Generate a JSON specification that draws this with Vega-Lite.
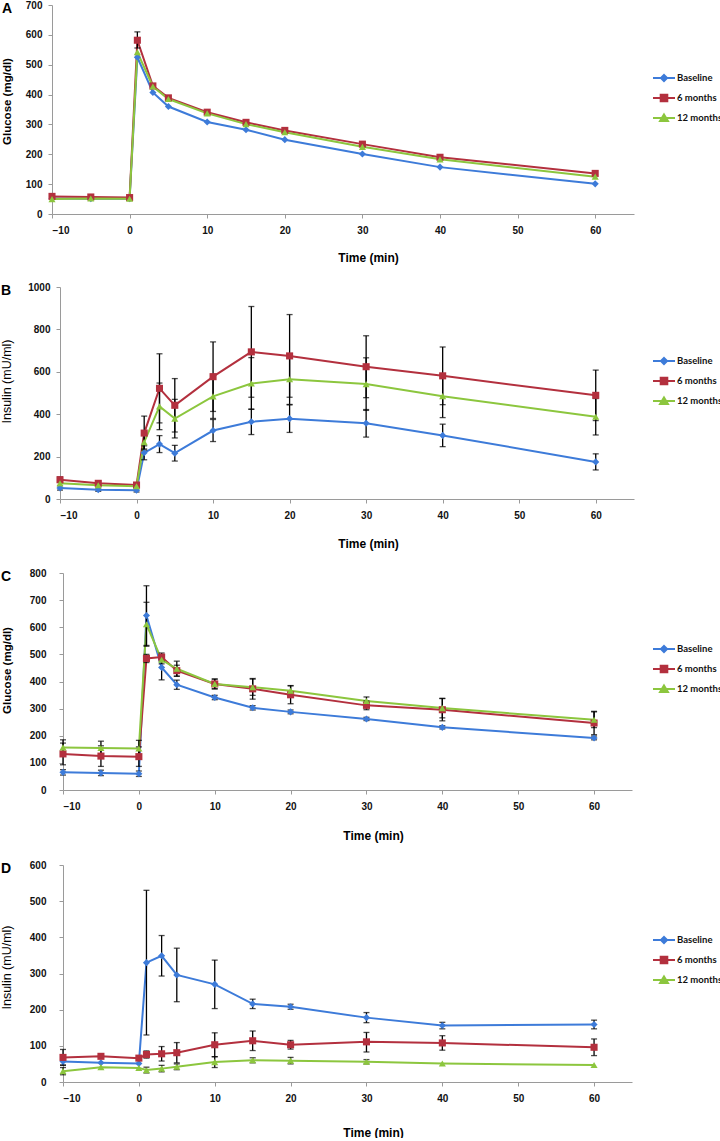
{
  "$schema": "https://vega.github.io/schema/vega-lite/v6.json",
  "background": "white",
  "padding": {"left": 0, "top": 0, "right": 0, "bottom": 0},
  "datasets": {
    "A": [
      {"t": -10, "series": "Baseline", "value": 52}, {"t": -5, "series": "Baseline", "value": 51}, {"t": 0, "series": "Baseline", "value": 51}, {"t": 1, "series": "Baseline", "value": 525}, {"t": 3, "series": "Baseline", "value": 407}, {"t": 5, "series": "Baseline", "value": 360}, {"t": 10, "series": "Baseline", "value": 308}, {"t": 15, "series": "Baseline", "value": 282}, {"t": 20, "series": "Baseline", "value": 249}, {"t": 30, "series": "Baseline", "value": 201}, {"t": 40, "series": "Baseline", "value": 157}, {"t": 60, "series": "Baseline", "value": 101},
      {"t": -10, "series": "6 months", "value": 59}, {"t": -5, "series": "6 months", "value": 57}, {"t": 0, "series": "6 months", "value": 55}, {"t": 1, "series": "6 months", "value": 582}, {"t": 3, "series": "6 months", "value": 429}, {"t": 5, "series": "6 months", "value": 389}, {"t": 10, "series": "6 months", "value": 341}, {"t": 15, "series": "6 months", "value": 307}, {"t": 20, "series": "6 months", "value": 280}, {"t": 30, "series": "6 months", "value": 234}, {"t": 40, "series": "6 months", "value": 190}, {"t": 60, "series": "6 months", "value": 136},
      {"t": -10, "series": "12 months", "value": 50}, {"t": -5, "series": "12 months", "value": 52}, {"t": 0, "series": "12 months", "value": 51}, {"t": 1, "series": "12 months", "value": 542}, {"t": 3, "series": "12 months", "value": 427}, {"t": 5, "series": "12 months", "value": 385}, {"t": 10, "series": "12 months", "value": 337}, {"t": 15, "series": "12 months", "value": 301}, {"t": 20, "series": "12 months", "value": 274}, {"t": 30, "series": "12 months", "value": 225}, {"t": 40, "series": "12 months", "value": 183}, {"t": 60, "series": "12 months", "value": 125}
    ],
    "Aerr": [
      {"t": 1, "series": "6 months", "lo": 556, "hi": 610}
    ],
    "B": [
      {"t": -10, "series": "Baseline", "value": 52}, {"t": -5, "series": "Baseline", "value": 44}, {"t": 0, "series": "Baseline", "value": 41}, {"t": 1, "series": "Baseline", "value": 218}, {"t": 3, "series": "Baseline", "value": 259}, {"t": 5, "series": "Baseline", "value": 216}, {"t": 10, "series": "Baseline", "value": 323}, {"t": 15, "series": "Baseline", "value": 364}, {"t": 20, "series": "Baseline", "value": 379}, {"t": 30, "series": "Baseline", "value": 357}, {"t": 40, "series": "Baseline", "value": 300}, {"t": 60, "series": "Baseline", "value": 175},
      {"t": -10, "series": "6 months", "value": 91}, {"t": -5, "series": "6 months", "value": 74}, {"t": 0, "series": "6 months", "value": 66}, {"t": 1, "series": "6 months", "value": 311}, {"t": 3, "series": "6 months", "value": 522}, {"t": 5, "series": "6 months", "value": 442}, {"t": 10, "series": "6 months", "value": 577}, {"t": 15, "series": "6 months", "value": 694}, {"t": 20, "series": "6 months", "value": 675}, {"t": 30, "series": "6 months", "value": 624}, {"t": 40, "series": "6 months", "value": 581}, {"t": 60, "series": "6 months", "value": 489},
      {"t": -10, "series": "12 months", "value": 74}, {"t": -5, "series": "12 months", "value": 65}, {"t": 0, "series": "12 months", "value": 60}, {"t": 1, "series": "12 months", "value": 268}, {"t": 3, "series": "12 months", "value": 437}, {"t": 5, "series": "12 months", "value": 379}, {"t": 10, "series": "12 months", "value": 484}, {"t": 15, "series": "12 months", "value": 545}, {"t": 20, "series": "12 months", "value": 565}, {"t": 30, "series": "12 months", "value": 542}, {"t": 40, "series": "12 months", "value": 485}, {"t": 60, "series": "12 months", "value": 388}
    ],
    "Berr": [
      {"t": -10, "series": "Baseline", "lo": 42, "hi": 62}, {"t": -5, "series": "Baseline", "lo": 36, "hi": 52}, {"t": 0, "series": "Baseline", "lo": 33, "hi": 49}, {"t": 1, "series": "Baseline", "lo": 185, "hi": 251}, {"t": 3, "series": "Baseline", "lo": 219, "hi": 299}, {"t": 5, "series": "Baseline", "lo": 179, "hi": 253}, {"t": 10, "series": "Baseline", "lo": 271, "hi": 375}, {"t": 15, "series": "Baseline", "lo": 304, "hi": 424}, {"t": 20, "series": "Baseline", "lo": 314, "hi": 444}, {"t": 30, "series": "Baseline", "lo": 292, "hi": 422}, {"t": 40, "series": "Baseline", "lo": 247, "hi": 353}, {"t": 60, "series": "Baseline", "lo": 137, "hi": 213},
      {"t": -10, "series": "6 months", "lo": 78, "hi": 104}, {"t": -5, "series": "6 months", "lo": 64, "hi": 84}, {"t": 0, "series": "6 months", "lo": 56, "hi": 76}, {"t": 1, "series": "6 months", "lo": 231, "hi": 391}, {"t": 3, "series": "6 months", "lo": 359, "hi": 685}, {"t": 5, "series": "6 months", "lo": 316, "hi": 568}, {"t": 10, "series": "6 months", "lo": 413, "hi": 741}, {"t": 15, "series": "6 months", "lo": 480, "hi": 908}, {"t": 20, "series": "6 months", "lo": 480, "hi": 870}, {"t": 30, "series": "6 months", "lo": 478, "hi": 770}, {"t": 40, "series": "6 months", "lo": 445, "hi": 717}, {"t": 60, "series": "6 months", "lo": 370, "hi": 608},
      {"t": 1, "series": "12 months", "lo": 236, "hi": 300}, {"t": 3, "series": "12 months", "lo": 327, "hi": 547}, {"t": 5, "series": "12 months", "lo": 288, "hi": 470}, {"t": 10, "series": "12 months", "lo": 380, "hi": 588}, {"t": 15, "series": "12 months", "lo": 423, "hi": 667}, {"t": 20, "series": "12 months", "lo": 446, "hi": 684}, {"t": 30, "series": "12 months", "lo": 418, "hi": 666}, {"t": 40, "series": "12 months", "lo": 384, "hi": 586}, {"t": 60, "series": "12 months", "lo": 302, "hi": 474}
    ],
    "C": [
      {"t": -10, "series": "Baseline", "value": 65}, {"t": -5, "series": "Baseline", "value": 63}, {"t": 0, "series": "Baseline", "value": 60}, {"t": 1, "series": "Baseline", "value": 643}, {"t": 3, "series": "Baseline", "value": 452}, {"t": 5, "series": "Baseline", "value": 388}, {"t": 10, "series": "Baseline", "value": 341}, {"t": 15, "series": "Baseline", "value": 303}, {"t": 20, "series": "Baseline", "value": 288}, {"t": 30, "series": "Baseline", "value": 262}, {"t": 40, "series": "Baseline", "value": 231}, {"t": 60, "series": "Baseline", "value": 192},
      {"t": -10, "series": "6 months", "value": 133}, {"t": -5, "series": "6 months", "value": 125}, {"t": 0, "series": "6 months", "value": 123}, {"t": 1, "series": "6 months", "value": 485}, {"t": 3, "series": "6 months", "value": 490}, {"t": 5, "series": "6 months", "value": 440}, {"t": 10, "series": "6 months", "value": 391}, {"t": 15, "series": "6 months", "value": 373}, {"t": 20, "series": "6 months", "value": 351}, {"t": 30, "series": "6 months", "value": 312}, {"t": 40, "series": "6 months", "value": 296}, {"t": 60, "series": "6 months", "value": 247},
      {"t": -10, "series": "12 months", "value": 157}, {"t": -5, "series": "12 months", "value": 155}, {"t": 0, "series": "12 months", "value": 153}, {"t": 1, "series": "12 months", "value": 611}, {"t": 3, "series": "12 months", "value": 480}, {"t": 5, "series": "12 months", "value": 447}, {"t": 10, "series": "12 months", "value": 391}, {"t": 15, "series": "12 months", "value": 379}, {"t": 20, "series": "12 months", "value": 366}, {"t": 30, "series": "12 months", "value": 328}, {"t": 40, "series": "12 months", "value": 302}, {"t": 60, "series": "12 months", "value": 259}
    ],
    "Cerr": [
      {"t": -10, "series": "Baseline", "lo": 55, "hi": 75}, {"t": -5, "series": "Baseline", "lo": 53, "hi": 73}, {"t": 0, "series": "Baseline", "lo": 50, "hi": 70}, {"t": 1, "series": "Baseline", "lo": 533, "hi": 753}, {"t": 3, "series": "Baseline", "lo": 406, "hi": 498}, {"t": 5, "series": "Baseline", "lo": 371, "hi": 405}, {"t": 10, "series": "Baseline", "lo": 333, "hi": 349}, {"t": 15, "series": "Baseline", "lo": 295, "hi": 311}, {"t": 20, "series": "Baseline", "lo": 281, "hi": 295}, {"t": 30, "series": "Baseline", "lo": 256, "hi": 268}, {"t": 40, "series": "Baseline", "lo": 225, "hi": 237}, {"t": 60, "series": "Baseline", "lo": 185, "hi": 199},
      {"t": -10, "series": "6 months", "lo": 93, "hi": 173}, {"t": -5, "series": "6 months", "lo": 87, "hi": 163}, {"t": 0, "series": "6 months", "lo": 87, "hi": 159}, {"t": 1, "series": "6 months", "lo": 470, "hi": 500}, {"t": 3, "series": "6 months", "lo": 475, "hi": 505}, {"t": 5, "series": "6 months", "lo": 420, "hi": 460}, {"t": 10, "series": "6 months", "lo": 373, "hi": 409}, {"t": 15, "series": "6 months", "lo": 335, "hi": 411}, {"t": 20, "series": "6 months", "lo": 318, "hi": 384}, {"t": 30, "series": "6 months", "lo": 296, "hi": 328}, {"t": 40, "series": "6 months", "lo": 255, "hi": 337}, {"t": 60, "series": "6 months", "lo": 204, "hi": 290},
      {"t": -10, "series": "12 months", "lo": 129, "hi": 185}, {"t": -5, "series": "12 months", "lo": 130, "hi": 180}, {"t": 0, "series": "12 months", "lo": 123, "hi": 183}, {"t": 1, "series": "12 months", "lo": 530, "hi": 692}, {"t": 3, "series": "12 months", "lo": 465, "hi": 495}, {"t": 5, "series": "12 months", "lo": 419, "hi": 475}, {"t": 10, "series": "12 months", "lo": 373, "hi": 409}, {"t": 15, "series": "12 months", "lo": 349, "hi": 409}, {"t": 20, "series": "12 months", "lo": 347, "hi": 385}, {"t": 30, "series": "12 months", "lo": 313, "hi": 343}, {"t": 40, "series": "12 months", "lo": 266, "hi": 338}, {"t": 60, "series": "12 months", "lo": 230, "hi": 288}
    ],
    "D": [
      {"t": -10, "series": "Baseline", "value": 57}, {"t": -5, "series": "Baseline", "value": 53}, {"t": 0, "series": "Baseline", "value": 51}, {"t": 1, "series": "Baseline", "value": 330}, {"t": 3, "series": "Baseline", "value": 349}, {"t": 5, "series": "Baseline", "value": 296}, {"t": 10, "series": "Baseline", "value": 270}, {"t": 15, "series": "Baseline", "value": 216}, {"t": 20, "series": "Baseline", "value": 208}, {"t": 30, "series": "Baseline", "value": 178}, {"t": 40, "series": "Baseline", "value": 156}, {"t": 60, "series": "Baseline", "value": 159},
      {"t": -10, "series": "6 months", "value": 68}, {"t": -5, "series": "6 months", "value": 71}, {"t": 0, "series": "6 months", "value": 66}, {"t": 1, "series": "6 months", "value": 76}, {"t": 3, "series": "6 months", "value": 78}, {"t": 5, "series": "6 months", "value": 81}, {"t": 10, "series": "6 months", "value": 103}, {"t": 15, "series": "6 months", "value": 114}, {"t": 20, "series": "6 months", "value": 103}, {"t": 30, "series": "6 months", "value": 111}, {"t": 40, "series": "6 months", "value": 108}, {"t": 60, "series": "6 months", "value": 96},
      {"t": -10, "series": "12 months", "value": 30}, {"t": -5, "series": "12 months", "value": 41}, {"t": 0, "series": "12 months", "value": 39}, {"t": 1, "series": "12 months", "value": 33}, {"t": 3, "series": "12 months", "value": 37}, {"t": 5, "series": "12 months", "value": 42}, {"t": 10, "series": "12 months", "value": 55}, {"t": 15, "series": "12 months", "value": 60}, {"t": 20, "series": "12 months", "value": 59}, {"t": 30, "series": "12 months", "value": 56}, {"t": 40, "series": "12 months", "value": 51}, {"t": 60, "series": "12 months", "value": 47}
    ],
    "Derr": [
      {"t": -10, "series": "Baseline", "lo": 47, "hi": 67}, {"t": 1, "series": "Baseline", "lo": 130, "hi": 530}, {"t": 3, "series": "Baseline", "lo": 293, "hi": 405}, {"t": 5, "series": "Baseline", "lo": 222, "hi": 370}, {"t": 10, "series": "Baseline", "lo": 203, "hi": 337}, {"t": 15, "series": "Baseline", "lo": 203, "hi": 229}, {"t": 20, "series": "Baseline", "lo": 201, "hi": 215}, {"t": 30, "series": "Baseline", "lo": 164, "hi": 192}, {"t": 40, "series": "Baseline", "lo": 147, "hi": 165}, {"t": 60, "series": "Baseline", "lo": 147, "hi": 171},
      {"t": -10, "series": "6 months", "lo": 46, "hi": 90}, {"t": 1, "series": "6 months", "lo": 66, "hi": 86}, {"t": 3, "series": "6 months", "lo": 58, "hi": 98}, {"t": 5, "series": "6 months", "lo": 53, "hi": 109}, {"t": 10, "series": "6 months", "lo": 70, "hi": 136}, {"t": 15, "series": "6 months", "lo": 87, "hi": 141}, {"t": 20, "series": "6 months", "lo": 91, "hi": 115}, {"t": 30, "series": "6 months", "lo": 83, "hi": 137}, {"t": 40, "series": "6 months", "lo": 88, "hi": 128}, {"t": 60, "series": "6 months", "lo": 73, "hi": 119},
      {"t": -10, "series": "12 months", "lo": 20, "hi": 40}, {"t": 1, "series": "12 months", "lo": 25, "hi": 41}, {"t": 3, "series": "12 months", "lo": 28, "hi": 46}, {"t": 5, "series": "12 months", "lo": 34, "hi": 50}, {"t": 10, "series": "12 months", "lo": 40, "hi": 70}, {"t": 15, "series": "12 months", "lo": 53, "hi": 67}, {"t": 20, "series": "12 months", "lo": 50, "hi": 68}, {"t": 30, "series": "12 months", "lo": 50, "hi": 62}
    ]
  },
  "concat": [
    {
      "width": 571, "height": 209,
      "title": {"text": "A", "anchor": "start", "frame": "group", "dx": -61, "dy": 16, "offset": 0},
      "layer": [
        {"data": {"name": "A"}, "mark": {"type": "line", "strokeWidth": 2},
          "encoding": {
            "x": {"field": "t", "type": "quantitative", "title": "Time (min)", "scale": {"domain": [-10, 65], "nice": false, "range": [-11, 571]}, "axis": {"values": [-10, 0, 10, 20, 30, 40, 50, 60], "format": "d", "titleX": 305, "titleY": 38}},
            "y": {"field": "value", "type": "quantitative", "title": "Glucose (mg/dl)", "scale": {"domain": [0, 700], "nice": false}, "axis": {"values": [0, 100, 200, 300, 400, 500, 600, 700], "format": "d", "offset": 11, "labelPadding": 6, "titleX": -40, "titleY": 96, "titleFontWeight": "bold", "titleFontSize": 11.5}},
            "color": {"field": "series", "type": "nominal", "scale": {"domain": ["Baseline", "6 months", "12 months"], "range": ["#3D7BD9", "#B3303E", "#8CC63E"]},
              "legend": {"orient": "none", "legendX": 589, "legendY": 61, "title": null,
                "encoding": {"symbols": {
                  "shape": {"value": {"expr": "datum.value === 'Baseline' ? 'M-1,0H1M0,-0.28L0.28,0L0,0.28L-0.28,0Z' : datum.value === '6 months' ? 'M-1,0H1M-0.3,-0.3H0.3V0.3H-0.3Z' : 'M-1,0H1M0,-0.32L0.36,0.28H-0.36Z'"}},
                  "stroke": {"value": {"expr": "datum.value === 'Baseline' ? '#3D7BD9' : datum.value === '6 months' ? '#B3303E' : '#8CC63E'"}},
                  "fill": {"value": {"expr": "datum.value === 'Baseline' ? '#3D7BD9' : datum.value === '6 months' ? '#B3303E' : '#8CC63E'"}},
                  "strokeWidth": {"value": 2}, "size": {"value": 484}, "opacity": {"value": 1}
                }}}}
          }},
        {"data": {"name": "Aerr"}, "mark": {"type": "errorbar", "ticks": true, "size": 6, "thickness": 1.3, "color": "#000000"},
          "encoding": {
            "x": {"field": "t", "type": "quantitative", "title": "Time (min)", "axis": {"values": [-10, 0, 10, 20, 30, 40, 50, 60], "format": "d", "titleX": 305, "titleY": 38}},
            "y": {"field": "lo", "type": "quantitative", "title": "Glucose (mg/dl)", "axis": {"values": [0, 100, 200, 300, 400, 500, 600, 700], "format": "d", "offset": 11, "labelPadding": 6, "titleX": -40, "titleY": 96, "titleFontWeight": "bold", "titleFontSize": 11.5}},
            "y2": {"field": "hi"}
          }},
        {"data": {"name": "A"}, "mark": {"type": "point", "filled": true, "opacity": 1, "size": 50},
          "encoding": {
            "x": {"field": "t", "type": "quantitative", "title": "Time (min)", "axis": {"values": [-10, 0, 10, 20, 30, 40, 50, 60], "format": "d", "titleX": 305, "titleY": 38}},
            "y": {"field": "value", "type": "quantitative", "title": "Glucose (mg/dl)", "axis": {"values": [0, 100, 200, 300, 400, 500, 600, 700], "format": "d", "offset": 11, "labelPadding": 6, "titleX": -40, "titleY": 96, "titleFontWeight": "bold", "titleFontSize": 11.5}},
            "color": {"field": "series", "type": "nominal",
              "legend": {"orient": "none", "legendX": 589, "legendY": 61, "title": null,
                "encoding": {"symbols": {
                  "shape": {"value": {"expr": "datum.value === 'Baseline' ? 'M-1,0H1M0,-0.28L0.28,0L0,0.28L-0.28,0Z' : datum.value === '6 months' ? 'M-1,0H1M-0.3,-0.3H0.3V0.3H-0.3Z' : 'M-1,0H1M0,-0.32L0.36,0.28H-0.36Z'"}},
                  "stroke": {"value": {"expr": "datum.value === 'Baseline' ? '#3D7BD9' : datum.value === '6 months' ? '#B3303E' : '#8CC63E'"}},
                  "fill": {"value": {"expr": "datum.value === 'Baseline' ? '#3D7BD9' : datum.value === '6 months' ? '#B3303E' : '#8CC63E'"}},
                  "strokeWidth": {"value": 2}, "size": {"value": 484}, "opacity": {"value": 1}
                }}}},
            "shape": {"field": "series", "type": "nominal", "scale": {"domain": ["12 months", "6 months", "Baseline"], "range": ["triangle-up", "square", "diamond"]}, "legend": null}
          }}
      ]
    },
    {
      "width": 571, "height": 212,
      "title": {"text": "B", "anchor": "start", "frame": "group", "dx": -62, "dy": 16, "offset": 0},
      "layer": [
        {"data": {"name": "B"}, "mark": {"type": "line", "strokeWidth": 2},
          "encoding": {
            "x": {"field": "t", "type": "quantitative", "title": "Time (min)", "scale": {"domain": [-10, 65], "nice": false, "range": [-3, 571]}, "axis": {"values": [-10, 0, 10, 20, 30, 40, 50, 60], "format": "d", "titleX": 305, "titleY": 39}},
            "y": {"field": "value", "type": "quantitative", "title": "Insulin (mU/ml)", "scale": {"domain": [0, 1000], "nice": false}, "axis": {"values": [0, 200, 400, 600, 800, 1000], "format": "d", "offset": 3, "labelPadding": 6, "titleX": -47, "titleY": 94, "titleFontWeight": "normal", "titleFontSize": 12.5}},
            "color": {"field": "series", "type": "nominal", "scale": {"domain": ["Baseline", "6 months", "12 months"], "range": ["#3D7BD9", "#B3303E", "#8CC63E"]},
              "legend": {"orient": "none", "legendX": 589, "legendY": 62, "title": null,
                "encoding": {"symbols": {
                  "shape": {"value": {"expr": "datum.value === 'Baseline' ? 'M-1,0H1M0,-0.28L0.28,0L0,0.28L-0.28,0Z' : datum.value === '6 months' ? 'M-1,0H1M-0.3,-0.3H0.3V0.3H-0.3Z' : 'M-1,0H1M0,-0.32L0.36,0.28H-0.36Z'"}},
                  "stroke": {"value": {"expr": "datum.value === 'Baseline' ? '#3D7BD9' : datum.value === '6 months' ? '#B3303E' : '#8CC63E'"}},
                  "fill": {"value": {"expr": "datum.value === 'Baseline' ? '#3D7BD9' : datum.value === '6 months' ? '#B3303E' : '#8CC63E'"}},
                  "strokeWidth": {"value": 2}, "size": {"value": 484}, "opacity": {"value": 1}
                }}}}
          }},
        {"data": {"name": "Berr"}, "mark": {"type": "errorbar", "ticks": true, "size": 6, "thickness": 1.3, "color": "#000000"},
          "encoding": {
            "x": {"field": "t", "type": "quantitative", "title": "Time (min)", "axis": {"values": [-10, 0, 10, 20, 30, 40, 50, 60], "format": "d", "titleX": 305, "titleY": 39}},
            "y": {"field": "lo", "type": "quantitative", "title": "Insulin (mU/ml)", "axis": {"values": [0, 200, 400, 600, 800, 1000], "format": "d", "offset": 3, "labelPadding": 6, "titleX": -47, "titleY": 94, "titleFontWeight": "normal", "titleFontSize": 12.5}},
            "y2": {"field": "hi"}
          }},
        {"data": {"name": "B"}, "mark": {"type": "point", "filled": true, "opacity": 1, "size": 50},
          "encoding": {
            "x": {"field": "t", "type": "quantitative", "title": "Time (min)", "axis": {"values": [-10, 0, 10, 20, 30, 40, 50, 60], "format": "d", "titleX": 305, "titleY": 39}},
            "y": {"field": "value", "type": "quantitative", "title": "Insulin (mU/ml)", "axis": {"values": [0, 200, 400, 600, 800, 1000], "format": "d", "offset": 3, "labelPadding": 6, "titleX": -47, "titleY": 94, "titleFontWeight": "normal", "titleFontSize": 12.5}},
            "color": {"field": "series", "type": "nominal",
              "legend": {"orient": "none", "legendX": 589, "legendY": 62, "title": null,
                "encoding": {"symbols": {
                  "shape": {"value": {"expr": "datum.value === 'Baseline' ? 'M-1,0H1M0,-0.28L0.28,0L0,0.28L-0.28,0Z' : datum.value === '6 months' ? 'M-1,0H1M-0.3,-0.3H0.3V0.3H-0.3Z' : 'M-1,0H1M0,-0.32L0.36,0.28H-0.36Z'"}},
                  "stroke": {"value": {"expr": "datum.value === 'Baseline' ? '#3D7BD9' : datum.value === '6 months' ? '#B3303E' : '#8CC63E'"}},
                  "fill": {"value": {"expr": "datum.value === 'Baseline' ? '#3D7BD9' : datum.value === '6 months' ? '#B3303E' : '#8CC63E'"}},
                  "strokeWidth": {"value": 2}, "size": {"value": 484}, "opacity": {"value": 1}
                }}}},
            "shape": {"field": "series", "type": "nominal", "scale": {"domain": ["12 months", "6 months", "Baseline"], "range": ["triangle-up", "square", "diamond"]}, "legend": null}
          }}
      ]
    },
    {
      "width": 569, "height": 217,
      "title": {"text": "C", "anchor": "start", "frame": "group", "dx": -62, "dy": 16, "offset": 0},
      "layer": [
        {"data": {"name": "C"}, "mark": {"type": "line", "strokeWidth": 2},
          "encoding": {
            "x": {"field": "t", "type": "quantitative", "title": "Time (min)", "scale": {"domain": [-10, 65], "nice": false}, "axis": {"values": [-10, 0, 10, 20, 30, 40, 50, 60], "format": "d", "titleX": 310, "titleY": 40}},
            "y": {"field": "value", "type": "quantitative", "title": "Glucose (mg/dl)", "scale": {"domain": [0, 800], "nice": false}, "axis": {"values": [0, 100, 200, 300, 400, 500, 600, 700, 800], "format": "d", "labelPadding": 13, "titleX": -51, "titleY": 97, "titleFontWeight": "bold", "titleFontSize": 11.5}},
            "color": {"field": "series", "type": "nominal", "scale": {"domain": ["Baseline", "6 months", "12 months"], "range": ["#3D7BD9", "#B3303E", "#8CC63E"]},
              "legend": {"orient": "none", "legendX": 589, "legendY": 64, "title": null,
                "encoding": {"symbols": {
                  "shape": {"value": {"expr": "datum.value === 'Baseline' ? 'M-1,0H1M0,-0.28L0.28,0L0,0.28L-0.28,0Z' : datum.value === '6 months' ? 'M-1,0H1M-0.3,-0.3H0.3V0.3H-0.3Z' : 'M-1,0H1M0,-0.32L0.36,0.28H-0.36Z'"}},
                  "stroke": {"value": {"expr": "datum.value === 'Baseline' ? '#3D7BD9' : datum.value === '6 months' ? '#B3303E' : '#8CC63E'"}},
                  "fill": {"value": {"expr": "datum.value === 'Baseline' ? '#3D7BD9' : datum.value === '6 months' ? '#B3303E' : '#8CC63E'"}},
                  "strokeWidth": {"value": 2}, "size": {"value": 484}, "opacity": {"value": 1}
                }}}}
          }},
        {"data": {"name": "Cerr"}, "mark": {"type": "errorbar", "ticks": true, "size": 6, "thickness": 1.3, "color": "#000000"},
          "encoding": {
            "x": {"field": "t", "type": "quantitative", "title": "Time (min)", "axis": {"values": [-10, 0, 10, 20, 30, 40, 50, 60], "format": "d", "titleX": 310, "titleY": 40}},
            "y": {"field": "lo", "type": "quantitative", "title": "Glucose (mg/dl)", "axis": {"values": [0, 100, 200, 300, 400, 500, 600, 700, 800], "format": "d", "labelPadding": 13, "titleX": -51, "titleY": 97, "titleFontWeight": "bold", "titleFontSize": 11.5}},
            "y2": {"field": "hi"}
          }},
        {"data": {"name": "C"}, "mark": {"type": "point", "filled": true, "opacity": 1, "size": 50},
          "encoding": {
            "x": {"field": "t", "type": "quantitative", "title": "Time (min)", "axis": {"values": [-10, 0, 10, 20, 30, 40, 50, 60], "format": "d", "titleX": 310, "titleY": 40}},
            "y": {"field": "value", "type": "quantitative", "title": "Glucose (mg/dl)", "axis": {"values": [0, 100, 200, 300, 400, 500, 600, 700, 800], "format": "d", "labelPadding": 13, "titleX": -51, "titleY": 97, "titleFontWeight": "bold", "titleFontSize": 11.5}},
            "color": {"field": "series", "type": "nominal",
              "legend": {"orient": "none", "legendX": 589, "legendY": 64, "title": null,
                "encoding": {"symbols": {
                  "shape": {"value": {"expr": "datum.value === 'Baseline' ? 'M-1,0H1M0,-0.28L0.28,0L0,0.28L-0.28,0Z' : datum.value === '6 months' ? 'M-1,0H1M-0.3,-0.3H0.3V0.3H-0.3Z' : 'M-1,0H1M0,-0.32L0.36,0.28H-0.36Z'"}},
                  "stroke": {"value": {"expr": "datum.value === 'Baseline' ? '#3D7BD9' : datum.value === '6 months' ? '#B3303E' : '#8CC63E'"}},
                  "fill": {"value": {"expr": "datum.value === 'Baseline' ? '#3D7BD9' : datum.value === '6 months' ? '#B3303E' : '#8CC63E'"}},
                  "strokeWidth": {"value": 2}, "size": {"value": 484}, "opacity": {"value": 1}
                }}}},
            "shape": {"field": "series", "type": "nominal", "scale": {"domain": ["12 months", "6 months", "Baseline"], "range": ["triangle-up", "square", "diamond"]}, "legend": null}
          }}
      ]
    },
    {
      "width": 569, "height": 217,
      "title": {"text": "D", "anchor": "start", "frame": "group", "dx": -62, "dy": 16, "offset": 0},
      "layer": [
        {"data": {"name": "D"}, "mark": {"type": "line", "strokeWidth": 2},
          "encoding": {
            "x": {"field": "t", "type": "quantitative", "title": "Time (min)", "scale": {"domain": [-10, 65], "nice": false}, "axis": {"values": [-10, 0, 10, 20, 30, 40, 50, 60], "format": "d", "titleX": 310, "titleY": 45}},
            "y": {"field": "value", "type": "quantitative", "title": "Insulin (mU/ml)", "scale": {"domain": [0, 600], "nice": false}, "axis": {"values": [0, 100, 200, 300, 400, 500, 600], "format": "d", "labelPadding": 13, "titleX": -50, "titleY": 102, "titleFontWeight": "normal", "titleFontSize": 12.5}},
            "color": {"field": "series", "type": "nominal", "scale": {"domain": ["Baseline", "6 months", "12 months"], "range": ["#3D7BD9", "#B3303E", "#8CC63E"]},
              "legend": {"orient": "none", "legendX": 589, "legendY": 63, "title": null,
                "encoding": {"symbols": {
                  "shape": {"value": {"expr": "datum.value === 'Baseline' ? 'M-1,0H1M0,-0.28L0.28,0L0,0.28L-0.28,0Z' : datum.value === '6 months' ? 'M-1,0H1M-0.3,-0.3H0.3V0.3H-0.3Z' : 'M-1,0H1M0,-0.32L0.36,0.28H-0.36Z'"}},
                  "stroke": {"value": {"expr": "datum.value === 'Baseline' ? '#3D7BD9' : datum.value === '6 months' ? '#B3303E' : '#8CC63E'"}},
                  "fill": {"value": {"expr": "datum.value === 'Baseline' ? '#3D7BD9' : datum.value === '6 months' ? '#B3303E' : '#8CC63E'"}},
                  "strokeWidth": {"value": 2}, "size": {"value": 484}, "opacity": {"value": 1}
                }}}}
          }},
        {"data": {"name": "Derr"}, "mark": {"type": "errorbar", "ticks": true, "size": 6, "thickness": 1.3, "color": "#000000"},
          "encoding": {
            "x": {"field": "t", "type": "quantitative", "title": "Time (min)", "axis": {"values": [-10, 0, 10, 20, 30, 40, 50, 60], "format": "d", "titleX": 310, "titleY": 45}},
            "y": {"field": "lo", "type": "quantitative", "title": "Insulin (mU/ml)", "axis": {"values": [0, 100, 200, 300, 400, 500, 600], "format": "d", "labelPadding": 13, "titleX": -50, "titleY": 102, "titleFontWeight": "normal", "titleFontSize": 12.5}},
            "y2": {"field": "hi"}
          }},
        {"data": {"name": "D"}, "mark": {"type": "point", "filled": true, "opacity": 1, "size": 50},
          "encoding": {
            "x": {"field": "t", "type": "quantitative", "title": "Time (min)", "axis": {"values": [-10, 0, 10, 20, 30, 40, 50, 60], "format": "d", "titleX": 310, "titleY": 45}},
            "y": {"field": "value", "type": "quantitative", "title": "Insulin (mU/ml)", "axis": {"values": [0, 100, 200, 300, 400, 500, 600], "format": "d", "labelPadding": 13, "titleX": -50, "titleY": 102, "titleFontWeight": "normal", "titleFontSize": 12.5}},
            "color": {"field": "series", "type": "nominal",
              "legend": {"orient": "none", "legendX": 589, "legendY": 63, "title": null,
                "encoding": {"symbols": {
                  "shape": {"value": {"expr": "datum.value === 'Baseline' ? 'M-1,0H1M0,-0.28L0.28,0L0,0.28L-0.28,0Z' : datum.value === '6 months' ? 'M-1,0H1M-0.3,-0.3H0.3V0.3H-0.3Z' : 'M-1,0H1M0,-0.32L0.36,0.28H-0.36Z'"}},
                  "stroke": {"value": {"expr": "datum.value === 'Baseline' ? '#3D7BD9' : datum.value === '6 months' ? '#B3303E' : '#8CC63E'"}},
                  "fill": {"value": {"expr": "datum.value === 'Baseline' ? '#3D7BD9' : datum.value === '6 months' ? '#B3303E' : '#8CC63E'"}},
                  "strokeWidth": {"value": 2}, "size": {"value": 484}, "opacity": {"value": 1}
                }}}},
            "shape": {"field": "series", "type": "nominal", "scale": {"domain": ["12 months", "6 months", "Baseline"], "range": ["triangle-up", "square", "diamond"]}, "legend": null}
          }}
      ]
    }
  ],
  "columns": 1,
  "spacing": 19,
  "bounds": "full",
  "resolve": {"scale": {"color": "independent", "shape": "independent"}, "legend": {"color": "independent", "shape": "independent"}},
  "config": {
    "view": {"stroke": null},
    "font": "Liberation Sans",
    "title": {"fontSize": 14, "fontWeight": "bold", "font": "Liberation Sans", "color": "#000000", "baseline": "alphabetic"},
    "axis": {"grid": false, "domainColor": "#9a9a9a", "tickColor": "#9a9a9a", "tickSize": 4, "labelFont": "Liberation Sans", "labelFontWeight": "bold", "labelFontSize": 10, "labelColor": "#111111", "labelPadding": 7, "titleFont": "Liberation Sans", "titleColor": "#000000", "titleFontWeight": "bold", "titleFontSize": 12},
    "legend": {
      "labelFont": "Lato", "labelFontSize": 9.5, "labelFontWeight": "bold", "labelColor": "#111111",
      "symbolSize": 484, "symbolStrokeWidth": 2, "rowPadding": 0, "labelOffset": 1, "padding": 0
    }
  }
}
